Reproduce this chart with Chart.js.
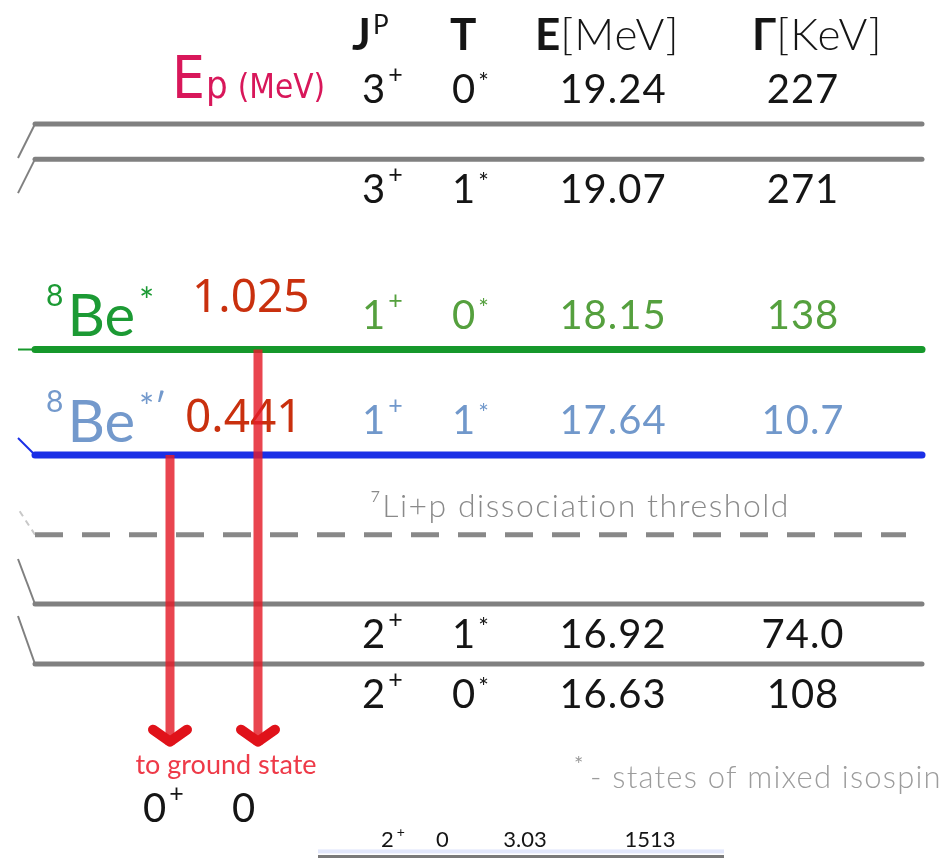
<!DOCTYPE html>
<html>
<head>
<meta charset="utf-8">
<script src="https://cdn.jsdelivr.net/npm/chart.js@4.4.0/dist/chart.umd.min.js"></script>
<style>
  html, body { margin: 0; padding: 0; background: #fff; }
  canvas { display: block; }
</style>
</head>
<body>
<canvas id="levels" width="949" height="862"></canvas>
<script>
// 8Be levels around the 7Li+p threshold
const levelEnergies = [19.24, 19.07, 18.15, 17.64, 16.92, 16.63];
const levelSpins = ["3+", "3+", "1+", "1+", "2+", "2+"];
const levelIsospins = ["0*", "1*", "0*", "1*", "1*", "0*"];
const levelWidths = ["227", "271", "138", "10.7", "74.0", "108"];

const thresholdEnergy = 17.255;
const thresholdLabel = "\u2077Li+p dissociation threshold";

// the two 1+ resonances hit with the proton beam
const resonanceNames = ["Be*", "Be*\u2032"];
const resonanceEnergies = [18.15, 17.64];
const protonEnergies = ["1.025", "0.441"];

const groundSpin = "0+";
const groundIsospin = "0";

const lowEnergy = 3.03;
const lowSpin = "2+";
const lowIsospin = "0";
const lowWidth = "1513";

// ---- look ----
const levelColors = ["#808080", "#808080", "#16982b", "#1a2fe6", "#808080", "#808080"];
const textColors = ["#151515", "#151515", "#55a03e", "#7198cb", "#151515", "#151515"];
const labelBelow = [false, true, false, false, true, true];
const resonanceColors = ["#1c9a34", "#7399cc"];

const X0 = 35, X1 = 922;           // level line extent
const Y_MAX = 19.8393, Y_MIN = 15.673;
const axisBreakE = 15.70;          // levels far below are drawn at the axis break
const arrowTipE = 16.24;           // arrows stop at the "to ground state" label
const arrowX = [258, 170];

const NUM = "400 40px Lato";
const SUP = "400 25px Lato";

const datasets = [];
levelEnergies.forEach((e, i) => {
  datasets.push({
    data: [{ x: X0, y: e }, { x: X1, y: e }],
    borderColor: levelColors[i],
    borderWidth: levelColors[i] === "#808080" ? 5 : 7,
    borderCapStyle: "round",
    pointRadius: 0,
    order: 2
  });
});
datasets.push({
  data: [{ x: X0, y: thresholdEnergy }, { x: 906, y: thresholdEnergy }],
  borderColor: "#888888",
  borderWidth: 5,
  borderDash: [28, 19],
  pointRadius: 0,
  order: 2
});
datasets.push({
  data: [{ x: 318, y: axisBreakE }, { x: 724, y: axisBreakE }],
  borderColor: "#7a7a7a",
  borderWidth: 3,
  pointRadius: 0,
  order: 2
});
resonanceEnergies.forEach((e, i) => {
  datasets.push({
    data: [{ x: arrowX[i], y: e }, { x: arrowX[i], y: arrowTipE }],
    borderColor: "rgba(228, 28, 40, 0.82)",
    borderWidth: 9,
    pointRadius: 0,
    order: 0
  });
});

function run(ctx, x, y, parts, align) {
  let total = 0;
  parts.forEach(p => {
    ctx.font = p.font;
    ctx.letterSpacing = p.ls || "0px";
    p.w = ctx.measureText(p.text).width + (p.gap || 0);
    total += p.w;
  });
  let cx = align === "center" ? x - total / 2 : x;
  parts.forEach(p => {
    ctx.font = p.font;
    ctx.letterSpacing = p.ls || "0px";
    ctx.fillStyle = p.color;
    ctx.fillText(p.text, cx + (p.gap || 0), y - (p.rise || 0));
    cx += p.w;
  });
  ctx.letterSpacing = "0px";
}

function supText(s, color, main, sup, rise) {
  return [
    { text: s.slice(0, -1), font: main, color: color },
    { text: s.slice(-1), font: sup, color: color, rise: rise, gap: 3 }
  ];
}

const decorations = {
  id: "decorations",
  beforeDatasetsDraw(chart) {
    const ctx = chart.ctx;
    const xs = chart.scales.x, ys = chart.scales.y;
    const X = v => xs.getPixelForValue(v);
    const Y = v => ys.getPixelForValue(v);
    ctx.save();
    ctx.textBaseline = "alphabetic";

    // little cut-off stubs at the left edge
    const stubDrop = [34, 34, 0, -17, -45, -48];
    ctx.lineWidth = 2;
    levelEnergies.forEach((e, i) => {
      ctx.strokeStyle = levelColors[i];
      ctx.beginPath();
      ctx.moveTo(X(X0), Y(e));
      ctx.lineTo(X(X0) - 17, Y(e) + stubDrop[i]);
      ctx.stroke();
    });
    ctx.strokeStyle = "#c8c8c8";
    ctx.setLineDash([6, 5]);
    ctx.beginPath();
    ctx.moveTo(X(X0), Y(thresholdEnergy));
    ctx.lineTo(X(X0) - 17, Y(thresholdEnergy) - 26);
    ctx.stroke();
    ctx.setLineDash([]);

    // column headers
    const hb = 50;
    run(ctx, 352, hb, [
      { text: "J", font: "700 44px Lato", color: "#151515" },
      { text: "P", font: "400 26px Lato", color: "#151515", rise: 16, gap: 2 }
    ], "left");
    run(ctx, 450, hb, [{ text: "T", font: "700 44px Lato", color: "#151515" }], "left");
    run(ctx, 535, hb, [
      { text: "E", font: "700 44px Lato", color: "#151515" },
      { text: "[MeV]", font: "300 44px Lato", color: "#151515", ls: "1px" }
    ], "left");
    run(ctx, 752, hb, [
      { text: "\u0393", font: "700 44px Lato", color: "#151515" },
      { text: "[KeV]", font: "300 44px Lato", color: "#151515", ls: "1px" }
    ], "left");

    // table rows
    levelEnergies.forEach((e, i) => {
      const base = Y(e) + (labelBelow[i] ? 44 : -21);
      const c = textColors[i];
      run(ctx, 362, base, supText(levelSpins[i], c, NUM, SUP, 20), "left");
      run(ctx, 452, base, supText(levelIsospins[i], c, NUM, SUP, 12), "left");
      run(ctx, 613, base, [{ text: e.toFixed(2), font: NUM, color: c, ls: "1px" }], "center");
      run(ctx, 803, base, [{ text: levelWidths[i], font: NUM, color: c, ls: "1px" }], "center");
    });

    // threshold label
    run(ctx, 580, Y(thresholdEnergy) - 18, [{ text: thresholdLabel, font: "300 32px Lato", color: "#8a8a8a", ls: "1.5px" }], "center");

    // Ep (MeV)
    const cf = "'DejaVu Sans Condensed', 'DejaVu Sans'";
    run(ctx, 172, 98, [
      { text: "E", font: "400 58px " + cf, color: "#d8175a" },
      { text: "p", font: "400 38px " + cf, color: "#d8175a", gap: 1 },
      { text: "(MeV)", font: "400 33px " + cf, color: "#d8175a", gap: 10 }
    ], "left");

    // resonance names and proton energies
    const nameLift = [14, 13];
    const eLift = [38, 23];
    const eLeft = [192, 185];
    resonanceEnergies.forEach((e, i) => {
      const y = Y(e);
      const c = resonanceColors[i];
      run(ctx, 46, y - nameLift[i], [
        { text: "8", font: "400 30px Lato", color: c, rise: 30 },
        { text: resonanceNames[i].slice(0, 2), font: "400 58px Lato", color: c, gap: 4 },
        { text: resonanceNames[i].slice(2), font: "400 36px Lato", color: c, rise: 22, gap: 4 }
      ], "left");
      run(ctx, eLeft[i], y - eLift[i], [{ text: protonEnergies[i], font: "400 46px 'Noto Sans'", color: "#c9300e" }], "left");
    });

    // ground state
    const tip = Y(arrowTipE);
    run(ctx, 226, tip + 29, [{ text: "to ground state", font: "400 27px Lato", color: "#ee3a48" }], "center");
    run(ctx, 143, tip + 77, supText(groundSpin, "#151515", NUM, SUP, 20), "left");
    run(ctx, 232, tip + 77, [{ text: groundIsospin, font: NUM, color: "#151515" }], "left");

    // footnote
    run(ctx, 574, 772, [{ text: "*", font: "400 22px Lato", color: "#9a9a9a" }], "left");
    run(ctx, 590, 788, [{ text: "- states of mixed isospin", font: "300 31px Lato", color: "#9c9c9c", ls: "1.2px" }], "left");

    // 3.03 level far below
    const lb = Y(axisBreakE);
    ctx.fillStyle = "#e2e7fb";
    ctx.fillRect(318, lb - 7, 406, 4);
    run(ctx, 381, lb - 9, supText(lowSpin, "#151515", "400 22px Lato", "400 14px Lato", 10), "left");
    run(ctx, 436, lb - 9, [{ text: lowIsospin, font: "400 22px Lato", color: "#151515" }], "left");
    run(ctx, 525, lb - 9, [{ text: lowEnergy.toFixed(2), font: "400 22px Lato", color: "#151515" }], "center");
    run(ctx, 650, lb - 9, [{ text: lowWidth, font: "400 22px Lato", color: "#151515" }], "center");
    ctx.restore();
  },
  afterDatasetsDraw(chart) {
    // chevron heads on the arrows
    const ctx = chart.ctx;
    const xs = chart.scales.x, ys = chart.scales.y;
    const tip = ys.getPixelForValue(arrowTipE);
    ctx.save();
    ctx.strokeStyle = "#e0121a";
    ctx.lineWidth = 10;
    ctx.lineJoin = "round";
    ctx.lineCap = "round";
    arrowX.forEach(ax => {
      const px = xs.getPixelForValue(ax);
      ctx.beginPath();
      ctx.moveTo(px - 17, tip - 15);
      ctx.lineTo(px, tip - 3);
      ctx.lineTo(px + 17, tip - 15);
      ctx.stroke();
    });
    ctx.restore();
  }
};

new Chart(document.getElementById("levels"), {
  type: "line",
  data: { datasets: datasets },
  options: {
    responsive: false,
    animation: false,
    layout: { padding: 0 },
    plugins: { legend: { display: false }, tooltip: { enabled: false } },
    scales: {
      x: { type: "linear", min: 0, max: 949, display: false },
      y: { type: "linear", min: Y_MIN, max: Y_MAX, display: false }
    }
  },
  plugins: [decorations]
});
</script>
</body>
</html>
